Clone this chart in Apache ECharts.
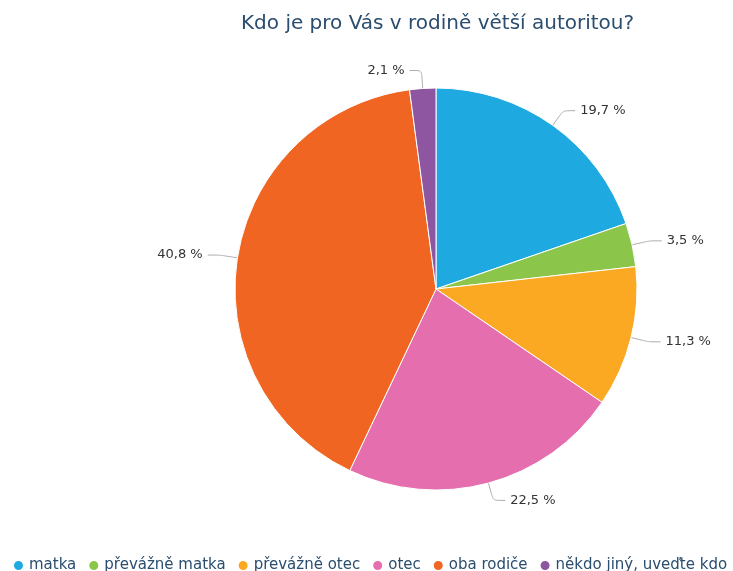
<!DOCTYPE html>
<html>
<head>
<meta charset="utf-8">
<script src="https://cdn.jsdelivr.net/npm/echarts@6/dist/echarts.min.js"></script>
<style>
html, body { margin: 0; padding: 0; background: #fff; }
#main { width: 733px; height: 571px; }
</style>
</head>
<body>
<div id="main"></div>
<script>
var chartTitle = 'Kdo je pro Vás v rodině větší autoritou?';
var categories = ['matka', 'převážně matka', 'převážně otec', 'otec', 'oba rodiče', 'někdo jiný, uveďte kdo'];
var values = [19.7, 3.5, 11.3, 22.5, 40.8, 2.1];
var colors = ['#1fa9e1', '#8bc54a', '#fba823', '#e56fae', '#f06522', '#8e55a0'];

var myChart = echarts.init(document.getElementById('main'));

var option = {
    animation: false,
    color: colors,
    title: {
        text: chartTitle,
        left: 236,
        top: 9,
        textStyle: {
            fontFamily: 'DejaVu Sans',
            fontSize: 20,
            fontWeight: 'normal',
            color: '#2b4d6e'
        }
    },
    legend: {
        top: 553,
        left: 7,
        width: 800,
        icon: 'circle',
        itemWidth: 11,
        itemHeight: 11,
        itemGap: 11,
        textStyle: {
            fontFamily: 'DejaVu Sans',
            fontSize: 15,
            color: '#2b4d6e'
        },
        data: categories
    },
    series: [{
        type: 'pie',
        center: [436, 289],
        radius: 201,
        startAngle: 90,
        clockwise: true,
        itemStyle: {
            borderColor: '#fff',
            borderWidth: 1
        },
        label: {
            fontFamily: 'DejaVu Sans',
            fontSize: 13,
            color: '#333',
            formatter: function (p) {
                return p.value.toFixed(1).replace('.', ',') + ' %';
            }
        },
        labelLine: {
            length: 18,
            length2: 12,
            smooth: 0.2,
            lineStyle: { color: '#aaa', width: 1 }
        },
        data: categories.map(function (c, i) {
            return { name: c, value: values[i] };
        })
    }]
};
myChart.setOption(option);
</script>
</body>
</html>
